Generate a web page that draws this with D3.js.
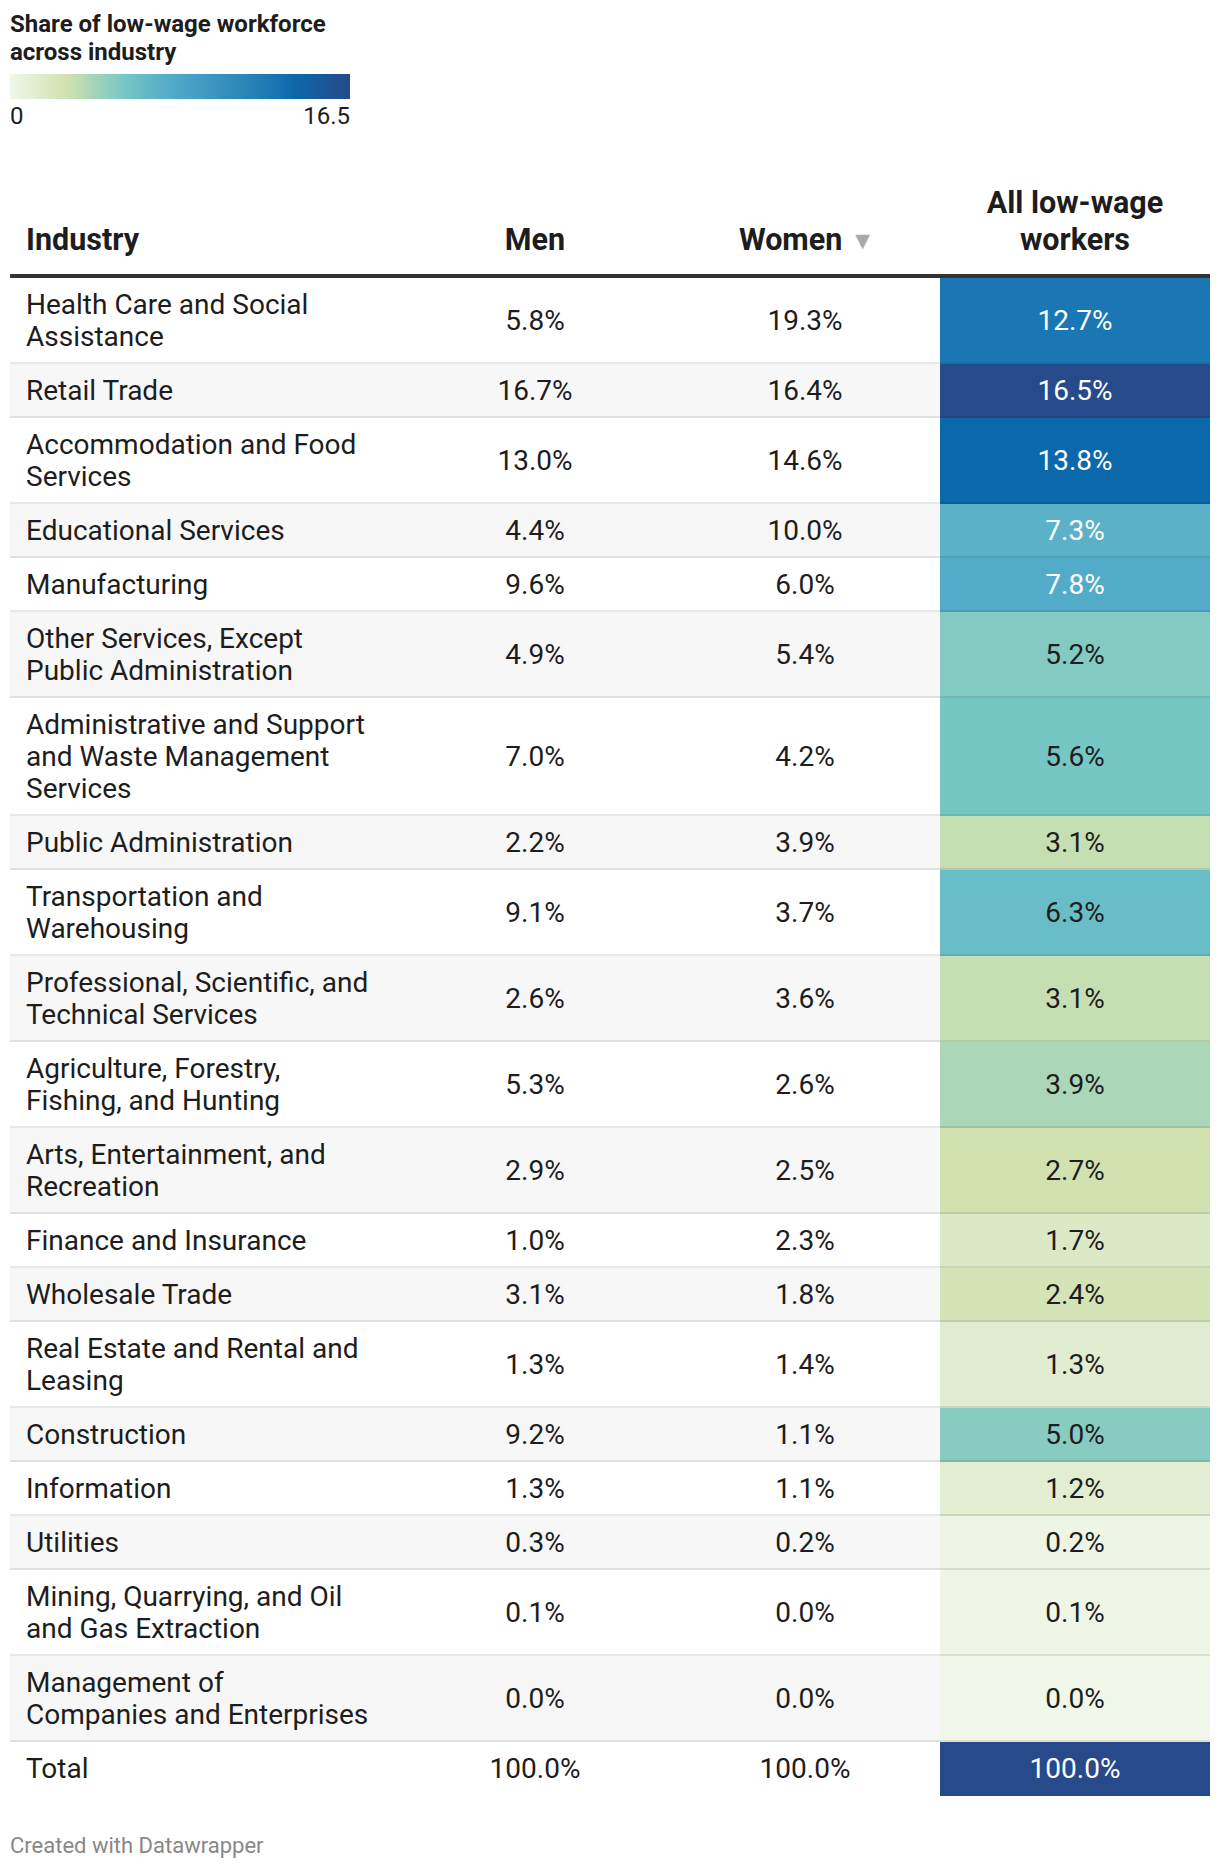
<!DOCTYPE html>
<html>
<head>
<meta charset="utf-8">
<script src="https://cdn.jsdelivr.net/npm/d3@7"></script>
<style>
  html, body { margin: 0; padding: 0; background: #fff; }
  svg { display: block; font-family: Roboto, "Noto Sans", sans-serif; }
</style>
</head>
<body>
<div id="chart"></div>
<script>
// ---------- data ----------
const industries = [
  "Health Care and Social|Assistance",
  "Retail Trade",
  "Accommodation and Food|Services",
  "Educational Services",
  "Manufacturing",
  "Other Services, Except|Public Administration",
  "Administrative and Support|and Waste Management|Services",
  "Public Administration",
  "Transportation and|Warehousing",
  "Professional, Scientific, and|Technical Services",
  "Agriculture, Forestry,|Fishing, and Hunting",
  "Arts, Entertainment, and|Recreation",
  "Finance and Insurance",
  "Wholesale Trade",
  "Real Estate and Rental and|Leasing",
  "Construction",
  "Information",
  "Utilities",
  "Mining, Quarrying, and Oil|and Gas Extraction",
  "Management of|Companies and Enterprises",
  "Total"
];
const men =        [5.8, 16.7, 13.0, 4.4, 9.6, 4.9, 7.0, 2.2, 9.1, 2.6, 5.3, 2.9, 1.0, 3.1, 1.3, 9.2, 1.3, 0.3, 0.1, 0.0, 100.0];
const women =      [19.3, 16.4, 14.6, 10.0, 6.0, 5.4, 4.2, 3.9, 3.7, 3.6, 2.6, 2.5, 2.3, 1.8, 1.4, 1.1, 1.1, 0.2, 0.0, 0.0, 100.0];
const allWorkers = [12.7, 16.5, 13.8, 7.3, 7.8, 5.2, 5.6, 3.1, 6.3, 3.1, 3.9, 2.7, 1.7, 2.4, 1.3, 5.0, 1.2, 0.2, 0.1, 0.0, 100.0];

const columns = ["Men", "Women", "All low-wage|workers"];
const legendTitle = ["Share of low-wage workforce", "across industry"];
const legendTicks = [0, 16.5];

// colour palette (scale definition)
const colorDomain = [0, 1.3, 2.7, 3.1, 3.9, 5.0, 5.6, 6.3, 7.3, 7.8, 12.7, 13.8, 16.5];
const colorRange  = ["#f0f7e8", "#e1ecd0", "#d1e2b0", "#c5dfb2", "#abd6b7", "#88ccc1", "#76c6c5",
                     "#69bdc6", "#5bb1c7", "#53abca", "#1b77b3", "#0b68ab", "#264a8a"];

// ---------- setup ----------
const W = 1220, H = 1870;
const svg = d3.select("#chart").append("svg").attr("width", W).attr("height", H);
svg.append("rect").attr("width", W).attr("height", H).attr("fill", "#fff");

const color = d3.scaleLinear().domain(colorDomain).range(colorRange).clamp(true);

// ---------- legend ----------
const legend = svg.append("g");
legend.selectAll("text.lt").data(legendTitle).join("text")
  .attr("class", "lt")
  .attr("x", 10).attr("y", (d, i) => 32 + i * 28)
  .attr("font-size", 24).attr("font-weight", 700).attr("fill", "#1d1d1d")
  .text(d => d);

const lx = d3.scaleLinear().domain(d3.extent(legendTicks)).range([10, 350]);
const defs = svg.append("defs");
const grad = defs.append("linearGradient").attr("id", "lg").attr("x1", "0%").attr("x2", "100%");
grad.selectAll("stop").data(d3.range(0, 1.0001, 0.02)).join("stop")
  .attr("offset", d => (d * 100) + "%")
  .attr("stop-color", d => color(d * 16.5));
legend.append("rect").attr("x", lx(0)).attr("y", 74).attr("width", lx(16.5) - lx(0)).attr("height", 25)
  .attr("fill", "url(#lg)");
legend.selectAll("text.tk").data(legendTicks).join("text")
  .attr("class", "tk")
  .attr("x", d => lx(d)).attr("y", 124)
  .attr("text-anchor", (d, i) => i === 0 ? "start" : "end")
  .attr("font-size", 24).attr("fill", "#1d1d1d")
  .text(d => d3.format("")(d));

// ---------- table geometry ----------
const left = 10, right = 1210;
const firstColRight = 400;
const xCol = d3.scaleBand().domain(columns).range([firstColRight, right]);
const lineH = 32, pad = 11;
const rows = industries.map((name, i) => ({
  lines: name.split("|"),
  men: men[i], women: women[i], all: allWorkers[i], i
}));
let yCursor = 278;
rows.forEach(r => { r.y = yCursor; r.h = pad * 2 + lineH * r.lines.length; yCursor += r.h; });

// header
const header = svg.append("g").attr("font-size", 30.5).attr("font-weight", 700).attr("fill", "#1d1d1d");
header.append("text").attr("x", 26).attr("y", 250).text("Industry");
columns.forEach(c => {
  const parts = c.split("|");
  const cx = xCol(c) + xCol.bandwidth() / 2;
  if (c === "Women") {
    const t = header.append("text").attr("x", cx + 2).attr("y", 250).attr("text-anchor", "middle");
    t.append("tspan").text("Women");
    t.append("tspan").attr("font-size", 25).attr("fill", "#aaaaaa").attr("dx", 8).attr("dy", -1).text("▼");
  } else {
    parts.forEach((p, k) => {
      header.append("text").attr("x", cx).attr("y", 250 - (parts.length - 1 - k) * 37)
        .attr("text-anchor", "middle").text(p);
    });
  }
});
svg.append("rect").attr("x", left).attr("y", 274).attr("width", right - left).attr("height", 4).attr("fill", "#333");

// rows
const body = svg.append("g");
const rowG = body.selectAll("g.row").data(rows).join("g").attr("class", "row")
  .attr("transform", d => `translate(0,${d.y})`);

rowG.append("rect")
  .attr("x", left).attr("width", right - left)
  .attr("height", d => d.h)
  .attr("fill", d => d.i % 2 === 1 ? "#f7f7f7" : "#ffffff");

const allCol = columns[2];
rowG.append("rect")
  .attr("x", xCol(allCol)).attr("width", xCol.bandwidth())
  .attr("height", d => d.h)
  .attr("fill", d => color(d.all));

// separators
rowG.filter(d => d.i < rows.length - 1).append("rect")
  .attr("x", left).attr("width", right - left)
  .attr("y", d => d.h - 2).attr("height", 2)
  .attr("fill", "rgba(0,0,0,0.09)");

// industry labels
rowG.each(function(d) {
  const g = d3.select(this);
  d.lines.forEach((ln, k) => {
    g.append("text").attr("x", 26)
      .attr("y", pad + lineH * k + lineH / 2 - 1)
      .attr("dy", "0.35em")
      .attr("font-size", 28).attr("fill", "#1d1d1d")
      .text(ln);
  });
});

const fmt = v => d3.format(".1f")(v) + "%";
const valueCols = [["Men", "men"], ["Women", "women"], [allCol, "all"]];
valueCols.forEach(([c, key]) => {
  rowG.append("text")
    .attr("x", xCol(c) + xCol.bandwidth() / 2)
    .attr("y", d => d.h / 2 - 1)
    .attr("dy", "0.35em")
    .attr("text-anchor", "middle")
    .attr("font-size", 28)
    .attr("fill", d => key === "all" && d3.lab(color(d.all)).l < 69 ? "#ffffff" : "#1d1d1d")
    .text(d => fmt(d[key]));
});

// footer
svg.append("text").attr("x", 10).attr("y", 1853)
  .attr("font-size", 22).attr("fill", "#888888")
  .text("Created with Datawrapper");
</script>
</body>
</html>
